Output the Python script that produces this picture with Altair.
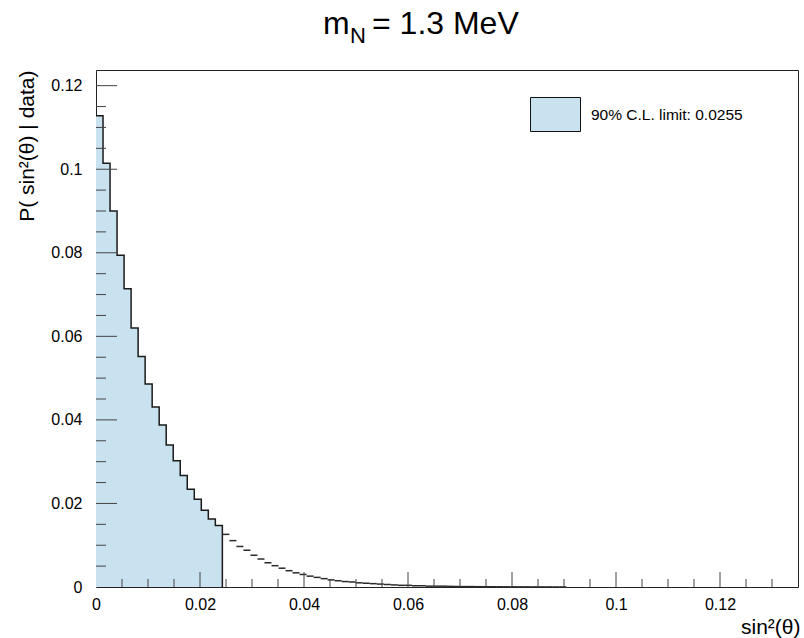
import altair as alt
import pandas as pd

# ---------------- data ----------------
bin_width = 0.00135
# bins inside the 90% C.L. region (filled)
filled_values = [0.1128, 0.1014, 0.0900, 0.0794, 0.0714, 0.0620, 0.0552, 0.0486,
                 0.0431, 0.0388, 0.0340, 0.0302, 0.0267, 0.0234, 0.0210, 0.0184,
                 0.0163, 0.0147]
# remaining bins (unfilled tail)
tail_values = [0.0126, 0.0111, 0.0097, 0.0088, 0.0076, 0.0067, 0.0058, 0.0051,
               0.0045, 0.0039, 0.0034, 0.0030, 0.0026, 0.0023, 0.0020, 0.0017,
               0.0015, 0.0013, 0.0012, 0.0010, 0.0009, 0.0008, 0.0007, 0.0006,
               0.0005, 0.0004, 0.0004, 0.0003, 0.0003, 0.0002, 0.0002, 0.0002,
               0.00015, 0.00012, 0.0001, 0.0001, 0.00008, 0.00007, 0.00006,
               0.00005, 0.00004, 0.00004, 0.00003, 0.00003, 0.00002, 0.00002,
               0.00002, 0.00001, 0.00001]
legend_label = "90% C.L. limit: 0.0255"
x_major = [0, 0.02, 0.04, 0.06, 0.08, 0.1, 0.12]
x_minor = [0.005, 0.01, 0.015, 0.025, 0.03, 0.035, 0.045, 0.05, 0.055, 0.065,
           0.07, 0.075, 0.085, 0.09, 0.095, 0.105, 0.11, 0.115, 0.125, 0.13]
y_major = [0, 0.02, 0.04, 0.06, 0.08, 0.1, 0.12]
y_minor = [0.005, 0.01, 0.015, 0.025, 0.03, 0.035, 0.045, 0.05, 0.055, 0.065,
           0.07, 0.075, 0.085, 0.09, 0.095, 0.105, 0.11, 0.115]
x_domain = [0, 0.135]
y_domain = [0, 0.12375]

# ---------------- tables ----------------
n_f = len(filled_values)
outline = pd.DataFrame({
    "x": [i * bin_width for i in range(n_f)] + [n_f * bin_width],
    "y": filled_values + [0.0],
    "series": [legend_label] * (n_f + 1),
})
tail = pd.DataFrame({
    "lo": [(n_f + i) * bin_width for i in range(len(tail_values))],
    "hi": [(n_f + i + 1) * bin_width for i in range(len(tail_values))],
    "y": tail_values,
})
xmaj = pd.DataFrame({"v": x_major[1:]})
xmin = pd.DataFrame({"v": x_minor})
ymaj = pd.DataFrame({"v": y_major[1:]})
ymin = pd.DataFrame({"v": y_minor})
one = pd.DataFrame({"a": [0]})

FONT = "Liberation Sans"
W, H = 702, 517
fill_color = "#c9e2ef"
line_color = "#1a1a1a"
tick_color = "#444444"

xs = alt.Scale(domain=x_domain, nice=False, zero=False)
ys = alt.Scale(domain=y_domain, nice=False, zero=False)

x_axis = alt.Axis(values=x_major, format="~g", ticks=False, domain=False, grid=False,
                  labelFont=FONT, labelFontSize=16, labelColor="#000", labelPadding=9,
                  labelFlush=False, labelOverlap=False,
                  title="sin²(θ)", titleFont=FONT, titleFontSize=21,
                  titleFontWeight="normal", titleColor="#000",
                  titleX=704, titleY=46, titleAlign="right", titleBaseline="alphabetic")
y_axis = alt.Axis(values=y_major, format="~g", ticks=False, domain=False, grid=False,
                  labelFont=FONT, labelFontSize=16, labelColor="#000", labelPadding=14,
                  labelOverlap=False, labelFlush=False,
                  title="P( sin²(θ) | data)", titleFont=FONT, titleFontSize=21,
                  titleFontWeight="normal", titleColor="#000",
                  titleX=-63, titleY=0, titleAlign="right", titleBaseline="alphabetic",
                  titleAngle=-90)

area = alt.Chart(outline).mark_area(interpolate="step-after", opacity=1).encode(
    x=alt.X("x:Q", scale=xs, axis=x_axis),
    y=alt.Y("y:Q", scale=ys, axis=y_axis),
    color=alt.Color("series:N", scale=alt.Scale(range=[fill_color]),
                    legend=alt.Legend(title=None, orient="none", legendX=434, legendY=19,
                                      symbolType="M-1,-0.68H1V0.68H-1Z", symbolSize=2500,
                                      symbolStrokeColor="#111", symbolStrokeWidth=1,
                                      symbolFillColor=fill_color, symbolOpacity=1,
                                      labelFont=FONT, labelFontSize=15.5, labelColor="#000",
                                      labelOffset=10, padding=0, labelLimit=400)),
)

line = alt.Chart(outline).mark_line(interpolate="step-after", color=line_color,
                                    strokeWidth=1.5).encode(
    x=alt.X("x:Q", scale=xs), y=alt.Y("y:Q", scale=ys))

tail_rules = alt.Chart(tail).mark_rule(color="#2a2a2a", strokeWidth=1.5).encode(
    x=alt.X("lo:Q", scale=xs), x2="hi:Q", y=alt.Y("y:Q", scale=ys))

xt_major = alt.Chart(xmaj).mark_rule(color=tick_color, strokeWidth=1).encode(
    x=alt.X("v:Q", scale=xs), y=alt.value(H), y2=alt.value(H - 15))
xt_minor = alt.Chart(xmin).mark_rule(color=tick_color, strokeWidth=1).encode(
    x=alt.X("v:Q", scale=xs), y=alt.value(H), y2=alt.value(H - 8))
yt_major = alt.Chart(ymaj).mark_rule(color=tick_color, strokeWidth=1).encode(
    y=alt.Y("v:Q", scale=ys), x=alt.value(0), x2=alt.value(21))
yt_minor = alt.Chart(ymin).mark_rule(color=tick_color, strokeWidth=1).encode(
    y=alt.Y("v:Q", scale=ys), x=alt.value(0), x2=alt.value(10))

t_m = alt.Chart(one).mark_text(font=FONT, fontSize=32, align="left", baseline="alphabetic",
                               color="#000").encode(
    x=alt.value(227), y=alt.value(-36), text=alt.value("m"))
t_N = alt.Chart(one).mark_text(font=FONT, fontSize=22, align="left", baseline="alphabetic",
                               color="#000").encode(
    x=alt.value(254), y=alt.value(-27), text=alt.value("N"))
t_rest = alt.Chart(one).mark_text(font=FONT, fontSize=32, align="left", baseline="alphabetic",
                                  color="#000").encode(
    x=alt.value(276), y=alt.value(-36), text=alt.value("= 1.3 MeV"))

chart = alt.layer(area, line, tail_rules, xt_major, xt_minor, yt_major, yt_minor,
                  t_m, t_N, t_rest).properties(
    width=W, height=H,
    autosize=alt.AutoSizeParams(type="none"),
    padding={"left": 96, "top": 70, "right": 6, "bottom": 51},
    background="white",
).configure_view(stroke="#222", strokeWidth=1).configure_legend(padding=0)

chart.save("out.html", embed_options={"renderer": "svg", "actions": False})
